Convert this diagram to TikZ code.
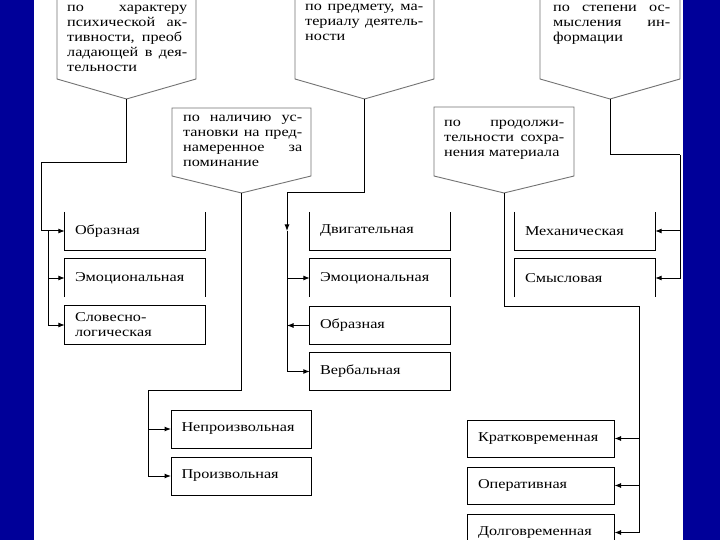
\documentclass[tikz,border=0pt]{standalone}
\usepackage{fontspec}
\setmainfont{Liberation Serif}[FakeStretch=1.2]
\usetikzlibrary{arrows.meta}
\definecolor{slideblue}{RGB}{0,0,153}
\newcommand{\jl}[2]{\makebox[#1][s]{\strut #2}}
\begin{document}
\begin{tikzpicture}[x=1pt,y=-1pt,
  every node/.style={font=\fontsize{13.5}{15}\selectfont},
  pent/.style={draw=black!55, line width=0.9pt},
  ptext/.style={anchor=north west, inner sep=0pt, align=left},
  cbox/.style={minimum width=140pt, minimum height=38pt, text width=120pt, inner xsep=10pt, inner ysep=0pt, align=left},
  wbox/.style={minimum width=147pt, minimum height=37pt, text width=125pt, inner xsep=11pt, inner ysep=0pt, align=left},
  boxline/.style={draw=black, line width=1pt},
  conn/.style={draw=black, line width=1pt},
  arr/.style={-{Latex[length=6.5pt,width=5pt]}}]
\useasboundingbox (0,0) rectangle (720,540);
\fill[slideblue] (0,0) rectangle (720,540);
\fill[white] (34,0) rectangle (683,540);

% pentagons
\coordinate (p1tip) at (126.5,99);
\coordinate (p2tip) at (364.5,99);
\coordinate (p3tip) at (610,99);
\coordinate (p4tip) at (241.5,193);
\coordinate (p5tip) at (504,193);
\draw[pent] (57,-2) -- (57,79) -- (p1tip) -- (196,79) -- (196,-2);
\draw[pent] (295,-2) -- (295,79) -- (p2tip) -- (434,79) -- (434,-2);
\draw[pent] (540,-2) -- (540,79) -- (p3tip) -- (680,79) -- (680,-2);
\draw[pent] (172,108) -- (172,176) -- (p4tip) -- (311,176) -- (311,108) -- cycle;
\draw[pent] (434,107) -- (434,176) -- (p5tip) -- (574,176) -- (574,107) -- cycle;

\node[ptext] (t1) at (67,0.5) {\jl{120pt}{по характеру}\\\jl{120pt}{психической ак-}\\\jl{115pt}{тивности, преоб}\\\jl{120pt}{ладающей в дея-}\\\strut тельности};
\node[ptext] (t2) at (305,-0.5) {\jl{118pt}{по предмету, ма-}\\\jl{118pt}{териалу деятель-}\\\strut ности};
\node[ptext] (t3) at (553,0.5) {\jl{117pt}{по степени ос-}\\\jl{117pt}{мысления ин-}\\\strut формации};
\node[ptext] (t4) at (183,110.5) {\jl{119pt}{по наличию ус-}\\\jl{119pt}{тановки на пред-}\\\jl{119pt}{намеренное за}\\\strut поминание};
\node[ptext] (t5) at (444,115.5) {\jl{120pt}{по продолжи-}\\\jl{120pt}{тельности сохра-}\\\strut нения материала};

% left column
\node[cbox] (b11) at (135,231) {Образная};
\node[cbox] (b12) at (135,278) {Эмоциональная};
\node[cbox] (b13) at (135,325) {Словесно-\\логическая};
\draw[boxline] (b11.north west) -- (b11.south west) -- (b11.south east) -- (b11.north east);
\draw[boxline] (b12.south west) -- (b12.north west) -- (b12.north east) -- (b12.south east);
\draw[boxline] (b13.north west) rectangle (b13.south east);

% middle column
\node[cbox] (b21) at (380,231) {Двигательная};
\node[cbox] (b22) at (380,278) {Эмоциональная};
\node[cbox] (b23) at (380,325.5) {Образная};
\node[cbox] (b24) at (380,371.5) {Вербальная};
\draw[boxline] (b21.north west) -- (b21.south west) -- (b21.south east) -- (b21.north east);
\draw[boxline] (b22.south west) -- (b22.north west) -- (b22.north east) -- (b22.south east);
\draw[boxline] (b23.north west) rectangle (b23.south east);
\draw[boxline] (b24.north west) rectangle (b24.south east);

% right column
\node[cbox] (b31) at (585,231) {Механическая};
\node[cbox] (b32) at (585,278) {Смысловая};
\draw[boxline] (b31.north west) -- (b31.south west) -- (b31.south east) -- (b31.north east);
\draw[boxline] (b32.south west) -- (b32.north west) -- (b32.north east) -- (b32.south east);

% pentagon 4 boxes
\node[cbox, boxline] (b41) at (241.5,429) {Непроизвольная};
\node[cbox, boxline] (b42) at (241.5,476) {Произвольная};

% pentagon 5 boxes
\node[wbox, boxline] (b51) at (540.5,438.5) {Кратковременная};
\node[wbox, boxline] (b52) at (540.5,485.5) {Оперативная};
\node[wbox, boxline] (b53) at (540.5,532.5) {Долговременная};

% connectors
\coordinate (c1) at (41,163);
\coordinate (c2) at (48,231);
\draw[conn] (p1tip) |- (c1);
\draw[conn,arr] (c1) |- (b11.west);
\draw[conn,arr] (c2) |- (b12.west);
\draw[conn,arr] (c2) |- (b13.west);

\coordinate (c3) at (287,193);
\coordinate (c3d) at (287,231);
\draw[conn] (p2tip) |- (c3);
\draw[conn,arr] (c3) -- (c3d);
\draw[conn,arr] (c3d) |- (b22.west);
\draw[conn,arr] (c3d) |- (b24.west);
\draw[conn,arr] (b23.west) -- (b23.west -| c3d);

\coordinate (c5) at (680,155);
\draw[conn] (p3tip) |- (c5);
\draw[conn,arr] (c5) |- (b31.east);
\draw[conn,arr] (c5) |- (b32.east);

\coordinate (c6) at (148,390);
\draw[conn] (p4tip) |- (c6);
\draw[conn,arr] (c6) |- (b41.west);
\draw[conn,arr] (c6) |- (b42.west);

\coordinate (c7) at (639,306);
\draw[conn] (p5tip) |- (c7);
\draw[conn,arr] (c7) |- (b51.east);
\draw[conn,arr] (c7) |- (b52.east);
\draw[conn,arr] (c7) |- (b53.east);
\end{tikzpicture}
\end{document}
